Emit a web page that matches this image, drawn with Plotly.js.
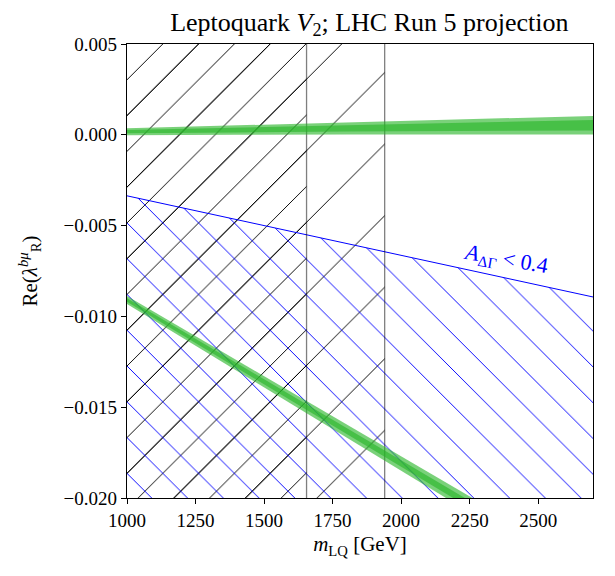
<!DOCTYPE html>
<html>
<head>
<meta charset="utf-8">
<script src="https://cdn.plot.ly/plotly-3.0.1.min.js"></script>
<style>html,body{margin:0;padding:0;background:#fff}</style>
</head>
<body>
<div id="chart" style="width:615px;height:576px"></div>
<script>
// Axis extents and ticks
const massRange = [1000, 2700];
const couplingRange = [-0.020, 0.005];
const xTicks = [1000, 1250, 1500, 1750, 2000, 2250, 2500];
const yTicks = [-0.020, -0.015, -0.010, -0.005, 0.000, 0.005];

// Direct-search mass exclusions (GeV)
const excludedMassCurrent = 1655;
const excludedMassProjected = 1940;

// A_ΔΓ < 0.4 boundary
const asymMass = [1000, 1500, 2000, 2500, 2700];
const asymBound = [-0.00336, -0.00500, -0.00665, -0.00830, -0.00893];

// Upper allowed band: centre and half-widths (outer / inner)
const upperMass = [1000, 1400, 1800, 2200, 2700];
const upperCenter = [0.00017, 0.00026, 0.00035, 0.00044, 0.00053];
const upperOuter = [0.00019, 0.00026, 0.00033, 0.00041, 0.00051];
const upperInner = [0.00009, 0.00013, 0.00017, 0.00022, 0.00029];

// Lower allowed band
const lowerMass = [1000, 1200, 1400, 1600, 1800, 2000, 2200, 2300];
const lowerCenter = [-0.0091, -0.0109, -0.0127, -0.0145, -0.0163, -0.0181, -0.0199, -0.0208];
const lowerOuter = [0.00022, 0.00025, 0.00028, 0.00031, 0.00035, 0.00039, 0.00043, 0.00045];
const lowerInner = [0.00010, 0.00011, 0.00013, 0.00014, 0.00016, 0.00018, 0.00019, 0.00020];

const FONT = 'Liberation Serif, Times New Roman, serif';
const HATCH = 25.3;
const bandColor = 'rgba(40,180,40,0.62)';

function bandPolygon(x, c, hw) {
  const up = c.map((v, i) => v + hw[i]);
  const lo = c.map((v, i) => v - hw[i]);
  return {
    x: x.concat(x.slice().reverse()),
    y: up.concat(lo.slice().reverse())
  };
}

function exclusionBox(mMax) {
  return {
    x: [massRange[0], mMax, mMax, massRange[0]],
    y: [couplingRange[0], couplingRange[0], couplingRange[1], couplingRange[1]]
  };
}

function hatchTrace(poly, shape, size, color) {
  return {
    type: 'scatter', mode: 'lines', x: poly.x, y: poly.y,
    fill: 'toself', fillcolor: 'rgba(0,0,0,0)',
    fillpattern: {shape: shape, size: size, solidity: 0.95 / size, fgcolor: color},
    line: {width: 0}, hoverinfo: 'skip', showlegend: false
  };
}

function bandTrace(poly) {
  return {
    type: 'scatter', mode: 'lines', x: poly.x, y: poly.y,
    fill: 'toself', fillcolor: bandColor,
    line: {width: 0}, hoverinfo: 'skip', showlegend: false
  };
}

function vline(m) {
  return {
    type: 'scatter', mode: 'lines', x: [m, m], y: couplingRange,
    line: {color: 'rgba(0,0,0,0.5)', width: 1.3},
    hoverinfo: 'skip', showlegend: false
  };
}

const asymRegion = {
  x: asymMass.concat([massRange[1], massRange[0]]),
  y: asymBound.concat([couplingRange[0], couplingRange[0]])
};

const traces = [
  hatchTrace(exclusionBox(excludedMassProjected), '/', 2 * HATCH, '#000'),
  hatchTrace(exclusionBox(excludedMassCurrent), '/', HATCH, '#000'),
  hatchTrace(asymRegion, '\\', HATCH, '#0000ff'),
  {
    type: 'scatter', mode: 'lines', x: asymMass, y: asymBound,
    line: {color: '#0000ff', width: 1}, hoverinfo: 'skip', showlegend: false
  },
  vline(excludedMassCurrent),
  vline(excludedMassProjected),
  bandTrace(bandPolygon(upperMass, upperCenter, upperOuter)),
  bandTrace(bandPolygon(upperMass, upperCenter, upperInner)),
  bandTrace(bandPolygon(lowerMass, lowerCenter, lowerOuter)),
  bandTrace(bandPolygon(lowerMass, lowerCenter, lowerInner))
];

const axisCommon = {
  showline: true, mirror: true, linecolor: '#000', linewidth: 1.2,
  ticks: 'outside', ticklen: 5, tickwidth: 1, tickcolor: '#000',
  showgrid: false, zeroline: false,
  tickfont: {family: FONT, size: 19, color: '#000'}
};

const layout = {
  width: 615, height: 576,
  margin: {l: 127, r: 22, t: 44, b: 78},
  paper_bgcolor: '#fff', plot_bgcolor: '#fff',
  font: {family: FONT, color: '#000'},
  showlegend: false,
  title: {
    text: 'Leptoquark <i>V</i><sub>2</sub>; LHC Run 5 projection',
    font: {family: FONT, size: 26, color: '#000'},
    x: 0.52, xref: 'paper', xanchor: 'center', y: 0.962, yanchor: 'middle'
  },
  xaxis: Object.assign({}, axisCommon, {
    range: massRange, tickvals: xTicks, ticktext: xTicks.map(String),
    title: {text: '<i>m</i><sub>LQ</sub> [GeV]', font: {family: FONT, size: 21}, standoff: 6}
  }),
  yaxis: Object.assign({}, axisCommon, {
    range: couplingRange, tickvals: yTicks, tickformat: '.3f',
    title: {text: 'Re(<i>λ</i><sup><i>bμ</i></sup><sub>R</sub>)', font: {family: FONT, size: 21}, standoff: 20}
  }),
  annotations: [{
    x: 2382, y: -0.0069, xref: 'x', yref: 'y',
    text: '<i>A</i><sub>ΔΓ</sub> &lt; 0.4',
    showarrow: false, textangle: 10,
    font: {family: FONT, size: 22, color: '#0000ff'}
  }]
};

Plotly.newPlot('chart', traces, layout, {displayModeBar: false, staticPlot: true});
</script>
</body>
</html>
